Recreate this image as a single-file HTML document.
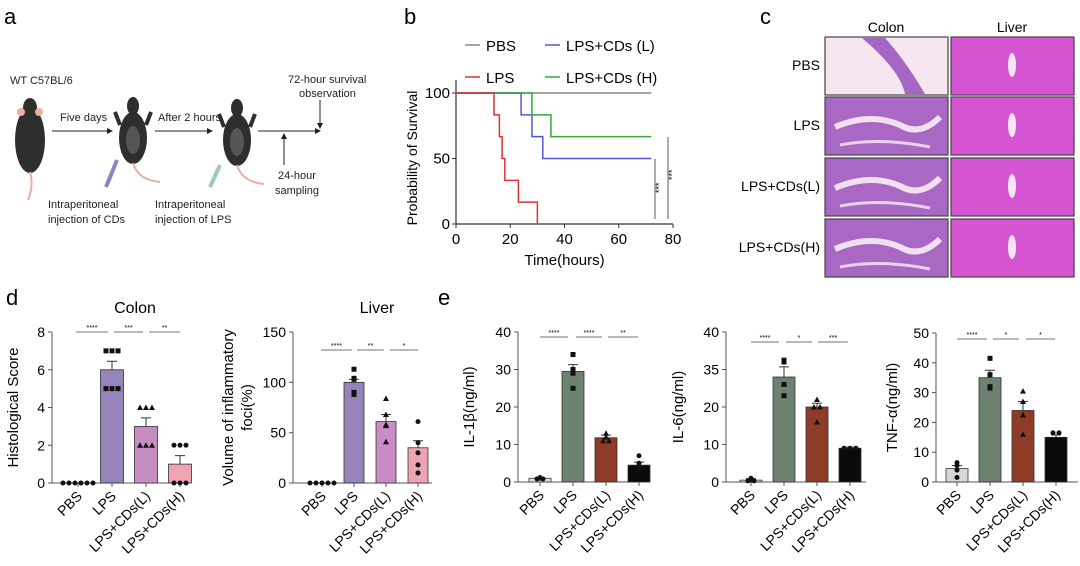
<!DOCTYPE html>
<html><head><meta charset="utf-8"><style>
html,body{margin:0;padding:0;background:#fff}
svg{display:block;font-family:"Liberation Sans",Arial,sans-serif}
</style></head><body>
<svg id="fig" width="1080" height="566" viewBox="0 0 1080 566" xmlns="http://www.w3.org/2000/svg">
<g font-size="11" fill="#222">
  <text x="4" y="24" font-size="22" fill="#000">a</text>
  <text x="10" y="84">WT C57BL/6</text>
  <g>
    <ellipse cx="30" cy="140" rx="15" ry="33" fill="#2e2e2e"/>
    <ellipse cx="30" cy="108" rx="7" ry="10" fill="#2e2e2e"/>
    <circle cx="21" cy="112" r="4" fill="#e8b0a0"/><circle cx="39" cy="112" r="4" fill="#e8b0a0"/>
    <path d="M30 172 Q34 185 28 200" stroke="#e8b0a0" stroke-width="2" fill="none"/>
  </g>
  <text x="60" y="121">Five days</text>
  <line x1="52" y1="131" x2="110" y2="131" stroke="#222" stroke-width="1"/><path d="M113 131 L107 128 L107 134Z" fill="#222"/>
  <g>
    <ellipse cx="133" cy="138" rx="14" ry="26" fill="#2e2e2e"/><ellipse cx="133" cy="140" rx="7" ry="14" fill="#555"/>
    <ellipse cx="133" cy="106" rx="6" ry="9" fill="#2e2e2e"/>
    <line x1="120" y1="125" x2="115" y2="112" stroke="#2e2e2e" stroke-width="4"/><line x1="146" y1="125" x2="151" y2="112" stroke="#2e2e2e" stroke-width="4"/>
    <path d="M133 163 Q138 180 160 182" stroke="#e8b0a0" stroke-width="2" fill="none"/>
    <line x1="117" y1="160" x2="106" y2="187" stroke="#8888c0" stroke-width="4"/>
  </g>
  <text x="158" y="121">After 2 hours</text>
  <line x1="155" y1="131" x2="210" y2="131" stroke="#222" stroke-width="1"/><path d="M213 131 L207 128 L207 134Z" fill="#222"/>
  <g>
    <ellipse cx="237" cy="140" rx="14" ry="26" fill="#2e2e2e"/><ellipse cx="237" cy="142" rx="7" ry="14" fill="#555"/>
    <ellipse cx="237" cy="108" rx="6" ry="9" fill="#2e2e2e"/>
    <line x1="224" y1="127" x2="219" y2="114" stroke="#2e2e2e" stroke-width="4"/><line x1="250" y1="127" x2="255" y2="114" stroke="#2e2e2e" stroke-width="4"/>
    <path d="M237 165 Q242 182 264 184" stroke="#e8b0a0" stroke-width="2" fill="none"/>
    <line x1="220" y1="165" x2="210" y2="187" stroke="#a0c8c0" stroke-width="4"/>
  </g>
  <line x1="258" y1="131" x2="318" y2="131" stroke="#222" stroke-width="1"/><path d="M321 131 L315 128 L315 134Z" fill="#222"/>
  <line x1="284" y1="165" x2="284" y2="136" stroke="#222" stroke-width="1"/><path d="M284 133 L281 139 L287 139Z" fill="#222"/>
  <line x1="320" y1="100" x2="320" y2="126" stroke="#222" stroke-width="1"/><path d="M320 129 L317 123 L323 123Z" fill="#222"/>
  <text x="288" y="83">72-hour survival</text>
  <text x="299" y="97">observation</text>
  <text x="278" y="179">24-hour</text>
  <text x="275" y="194">sampling</text>
  <text x="48" y="208">Intraperitoneal</text>
  <text x="48" y="223">injection of CDs</text>
  <text x="155" y="208">Intraperitoneal</text>
  <text x="155" y="223">injection of LPS</text>
</g>
<text x="404" y="24" font-size="22">b</text>
<text x="760" y="24" font-size="22">c</text>
<text x="6" y="305" font-size="22">d</text>
<text x="438" y="305" font-size="22">e</text>
<g id="gb"></g>
<g id="gc"></g>
<g id="gd"></g>
<g id="ge"></g>
</svg>
<script>
const NS="http://www.w3.org/2000/svg";
// ---- Survival data (panel b) ----
const survTicksX=[0,20,40,60,80];
const survTicksY=[0,50,100];
const pbsTimes=[0,72]; const pbsSurv=[100,100];
const lpsTimes=[0,14,16,17,18,23,30]; const lpsSurv=[100,83.3,66.7,50,33.3,16.7,0];
const lowTimes=[0,24,28,32,72]; const lowSurv=[100,83.3,66.7,50,50];
const highTimes=[0,28,35,72]; const highSurv=[100,83.3,66.7,66.7];
// ---- Panel d data ----
const groups=["PBS","LPS","LPS+CDs(L)","LPS+CDs(H)"];
const colonMeans=[0,6,3,1]; const colonSem=[0,0.45,0.45,0.45];
const colonPts=[[0,0,0,0,0,0],[7,7,7,5,5,5],[4,4,4,2,2,2],[2,2,2,0,0,0]];
const colonTicks=["0","2","4","6","8"];
const liverMeans=[0,100,61,35]; const liverSem=[0,3,7,7];
const liverPts=[[0,0,0,0,0],[113,103,104,88,90],[84,68,58,57,41],[61,40,30,18,10]];
const liverTicks=["0","50","100","150"];
// ---- Panel e data ----
const il1Means=[1,29.5,11.8,4.5]; const il1Sem=[0.2,1.8,0.7,0.8];
const il1Pts=[[0.8,1.2,0.8,1],[34,30,29,25],[13,12,11,11],[7,5,4,3]];
const il1Ticks=["0","10","20","30","40"];
const il6Means=[0.5,28,20,9]; const il6Sem=[0.4,2.7,1,0.3];
const il6Pts=[[1,0.3,0.5,0.3],[32,32.5,26,23],[22,20,20,16],[9,9,9]];
const il6Ticks=["0","10","20","35","40"];
const tnfMeans=[4.5,35,24,15]; const tnfSem=[1,2.5,3,0.8];
const tnfPts=[[6.5,5.5,4,1.5],[41.5,36,32,31.5],[30.5,27,22.5,16],[16.5,16.5]];
const tnfTicks=["0","10","20","30","40","50"];

function mk(p,tag,at){const e=document.createElementNS(NS,tag);for(const k in at)e.setAttribute(k,at[k]);p.appendChild(e);return e;}
function txt(p,x,y,s,at){const e=mk(p,"text",Object.assign({x:x,y:y},at||{}));e.textContent=s;return e;}

// ---- Panel b ----
(function(){
  const g=document.getElementById("gb");
  const X0=456,X1=673,Y0=224,Y1=93;
  const sx=v=>X0+(v-0)/(80)*(X1-X0), sy=v=>Y0-(v/100)*(Y0-Y1);
  const ax=mk(g,"line",{x1:X0,y1:Y0,x2:X1,y2:Y0,stroke:"#333","stroke-width":1.2});
  
  
  const ay=mk(g,"line",{x1:X0,y1:Y0,x2:X0,y2:80,stroke:"#333","stroke-width":1.2});
  
  
  survTicksX.forEach(v=>{mk(g,"line",{x1:sx(v),y1:Y0,x2:sx(v),y2:Y0+4,stroke:"#333"});
    const t=txt(g,sx(v),Y0+20,String(v),{"font-size":15,"text-anchor":"middle"});
    
    });
  survTicksY.forEach(v=>{mk(g,"line",{x1:X0-4,y1:sy(v),x2:X0,y2:sy(v),stroke:"#333"});
    const t=txt(g,X0-6,sy(v)+5,String(v),{"font-size":15,"text-anchor":"end"});
    
    });
  const xl=txt(g,(X0+X1)/2,265,"Time(hours)",{"font-size":15,"text-anchor":"middle"});
  
  
  const yl=txt(g,0,0,"Probability of Survival",{"font-size":14,"text-anchor":"middle",transform:"translate(417,158) rotate(-90)"});
  
  
  function step(ts,ss,col,name){let d="M"+sx(ts[0])+" "+sy(ss[0]);
    for(let i=1;i<ts.length;i++){d+=" H"+sx(ts[i])+" V"+sy(ss[i]);}
    const p=mk(g,"path",{d:d,fill:"none",stroke:col,"stroke-width":1.5});
    
    }
  step(pbsTimes,pbsSurv,"#888","survival-line-pbs");
  step(lowTimes,lowSurv,"#5555dd","survival-line-lps-cds-l");
  step(highTimes,highSurv,"#33aa33","survival-line-lps-cds-h");
  step(lpsTimes,lpsSurv,"#e03030","survival-line-lps");
  mk(g,"line",{x1:655,y1:159,x2:655,y2:219,stroke:"#333","stroke-width":0.8});
  mk(g,"line",{x1:668,y1:137,x2:668,y2:219,stroke:"#333","stroke-width":0.8});
  txt(g,0,0,"***",{"font-size":9,transform:"translate(662,193) rotate(-90)"});
  txt(g,0,0,"***",{"font-size":9,transform:"translate(675,180) rotate(-90)"});
  const leg=[["PBS","#888",465,45],["LPS+CDs (L)","#5555dd",545,45],["LPS","#e03030",465,77],["LPS+CDs (H)","#33aa33",545,77]];
  leg.forEach(l=>{const lg=mk(g,"g",{});
    
    
    mk(lg,"line",{x1:l[2],y1:l[3],x2:l[2]+15,y2:l[3],stroke:l[1],"stroke-width":1.5});
    txt(lg,l[2]+21,l[3]+6,l[0],{"font-size":15});});
})();

// ---- Panel c ----
(function(){
  const g=document.getElementById("gc");
  txt(g,886,32,"Colon",{"font-size":14,"text-anchor":"middle"});
  txt(g,1012,32,"Liver",{"font-size":14,"text-anchor":"middle"});
  const rows=["PBS","LPS","LPS+CDs(L)","LPS+CDs(H)"];
  const ry=[37,97,158,219];
  rows.forEach((r,i)=>{
    const t=txt(g,820,ry[i]+33,r,{"font-size":14,"text-anchor":"end"});
    
    
    const c=mk(g,"rect",{x:825,y:ry[i],width:123,height:58,fill:i==0?"#f5e6f0":"#a868c4",stroke:"#444","stroke-width":1.2});
    
    
    if(i==0){mk(g,"path",{d:"M862 38 Q900 70 905 94 L925 94 Q905 60 885 38Z",fill:"#a566c6"});}
    else{mk(g,"path",{d:"M835 "+(ry[i]+30)+" Q870 "+(ry[i]+15)+" 900 "+(ry[i]+28)+" Q920 "+(ry[i]+40)+" 940 "+(ry[i]+20),stroke:"#f0e0f0","stroke-width":6,fill:"none"});
      mk(g,"path",{d:"M840 "+(ry[i]+48)+" Q880 "+(ry[i]+40)+" 930 "+(ry[i]+50),stroke:"#e8d2ec","stroke-width":3,fill:"none"});}
    const l=mk(g,"rect",{x:951,y:ry[i],width:123,height:58,fill:"#d655d3",stroke:"#444","stroke-width":1.2});
    
    
    mk(g,"ellipse",{cx:1012,cy:ry[i]+28,rx:4,ry:12,fill:"#f6e6f4"});
  });
})();

// ---- Generic bar chart ----
function barChart(cfg){
  const g=mk(cfg.parent,"g",{});
  
  
  const {ax,yTop,yBot,max,ticks,c0,step,bw,xEnd}=cfg;
  const sy=v=>yBot-(v/max)*(yBot-yTop);
  const sx=i=>c0+i*step;
  const ya=mk(g,"line",{x1:ax,y1:yTop,x2:ax,y2:yBot,stroke:"#555","stroke-width":1});
  
  
  const xa=mk(g,"line",{x1:ax,y1:yBot,x2:xEnd,y2:yBot,stroke:"#555","stroke-width":1});
  
  
  ticks.forEach((t,i)=>{const v=i*max/(ticks.length-1);
    mk(g,"line",{x1:ax-4,y1:sy(v),x2:ax,y2:sy(v),stroke:"#555"});
    const tl=txt(g,ax-7,sy(v)+5,t,{"font-size":14,"text-anchor":"end"});
    
    });
  cfg.means.forEach((m,i)=>{
    const x=sx(i);
    if(m>0){const b=mk(g,"rect",{x:x-bw/2,y:sy(m),width:bw,height:yBot-sy(m),fill:cfg.colors[i],stroke:"#333","stroke-width":0.8});
      
      }
    const e=sy(m+cfg.sem[i]);
    mk(g,"line",{x1:x,y1:sy(m),x2:x,y2:e,stroke:"#333","stroke-width":1});
    mk(g,"line",{x1:x-5,y1:e,x2:x+5,y2:e,stroke:"#333","stroke-width":1});
    mk(g,"line",{x1:x,y1:yBot,x2:x,y2:yBot+4,stroke:"#555"});
    const pts=cfg.pts[i];
    pts.forEach((v,k)=>{
      const same=pts.filter(u=>u===v).length; const before=pts.slice(0,k).filter(u=>u===v).length;
      const px=x+(before-(same-1)/2)*6, py=sy(v);
      const sh=cfg.shapes[i];let d;
      if(sh=="s")d=mk(g,"rect",{x:px-2.5,y:py-2.5,width:5,height:5,fill:"#111"});
      else if(sh=="t")d=mk(g,"path",{d:`M${px} ${py-3} L${px+3} ${py+2.5} L${px-3} ${py+2.5}Z`,fill:"#111"});
      else d=mk(g,"circle",{cx:px,cy:py,r:2.5,fill:"#111"});
      
      
    });
    const lab=txt(g,0,0,groups[i],{"font-size":14,"text-anchor":"end",transform:`translate(${x+5},${yBot+14}) rotate(-45)`});
    
    
  });
  cfg.sig.forEach(s=>{mk(g,"line",{x1:s[0],y1:cfg.sigY,x2:s[1],y2:cfg.sigY,stroke:"#444","stroke-width":0.8});
    const st=txt(g,(s[0]+s[1])/2,cfg.sigY-2,s[2],{"font-size":7,"text-anchor":"middle"});
    
    });
  const yt=txt(g,0,0,cfg.ylabel[0],{"font-size":15,"text-anchor":"middle",transform:`translate(${cfg.ylx},${(yTop+yBot)/2}) rotate(-90)`});
  
  
  if(cfg.ylabel[1]){txt(g,0,0,cfg.ylabel[1],{"font-size":15,"text-anchor":"middle",transform:`translate(${cfg.ylx+19},${(yTop+yBot)/2}) rotate(-90)`});}
  if(cfg.title){const tt=txt(g,cfg.titleX,313,cfg.title,{"font-size":16,"text-anchor":"middle"});
    
    }
}
const gd=document.getElementById("gd"), ge=document.getElementById("ge");
barChart({parent:gd,name:"colon-score-chart",ax:52,yTop:332,yBot:483,max:8,ticks:colonTicks,c0:78,step:34,bw:23,xEnd:190,
  means:colonMeans,sem:colonSem,pts:colonPts,colors:["#fff","#9783bb","#c78cc2","#f1a3b4"],shapes:["c","s","t","c"],
  sig:[[76,108,"****"],[114,143,"***"],[149,180,"**"]],sigY:332,ylabel:["Histological Score"],ylx:18,title:"Colon",titleX:135});
barChart({parent:gd,name:"liver-foci-chart",ax:293,yTop:332,yBot:483,max:150,ticks:liverTicks,c0:322,step:32,bw:20,xEnd:432,
  means:liverMeans,sem:liverSem,pts:liverPts,colors:["#fff","#9783bb","#c98cc4","#eca3b5"],shapes:["c","s","t","c"],
  sig:[[321,352,"****"],[357,384,"**"],[390,418,"*"]],sigY:350,ylabel:["Volume of inflammatory","foci(%)"],ylx:233,title:"Liver",titleX:377});
barChart({parent:ge,name:"il1b-chart",ax:518,yTop:332,yBot:482,max:40,ticks:il1Ticks,c0:540,step:33,bw:22,xEnd:650,
  means:il1Means,sem:il1Sem,pts:il1Pts,colors:["#ddd","#6e8272","#8e3b28","#0a0a0a"],shapes:["c","s","t","c"],
  sig:[[540,568,"****"],[576,602,"****"],[608,638,"**"]],sigY:337,ylabel:["IL-1β(ng/ml)"],ylx:474});
barChart({parent:ge,name:"il6-chart",ax:726,yTop:332,yBot:482,max:40,ticks:il6Ticks,c0:751,step:33,bw:22,xEnd:866,
  means:il6Means,sem:il6Sem,pts:il6Pts,colors:["#ddd","#6e8272","#8e3b28","#0a0a0a"],shapes:["c","s","t","c"],
  sig:[[751,779,"****"],[786,812,"*"],[818,848,"***"]],sigY:342,ylabel:["IL-6(ng/ml)"],ylx:683});
barChart({parent:ge,name:"tnf-chart",ax:936,yTop:333,yBot:482,max:50,ticks:tnfTicks,c0:957,step:33,bw:22,xEnd:1078,
  means:tnfMeans,sem:tnfSem,pts:tnfPts,colors:["#d6d6d6","#6e8272","#8e3b28","#0a0a0a"],shapes:["c","s","t","c"],
  sig:[[957,987,"****"],[993,1019,"*"],[1026,1055,"*"]],sigY:339,ylabel:["TNF-α(ng/ml)"],ylx:897});
</script>
</body></html>
